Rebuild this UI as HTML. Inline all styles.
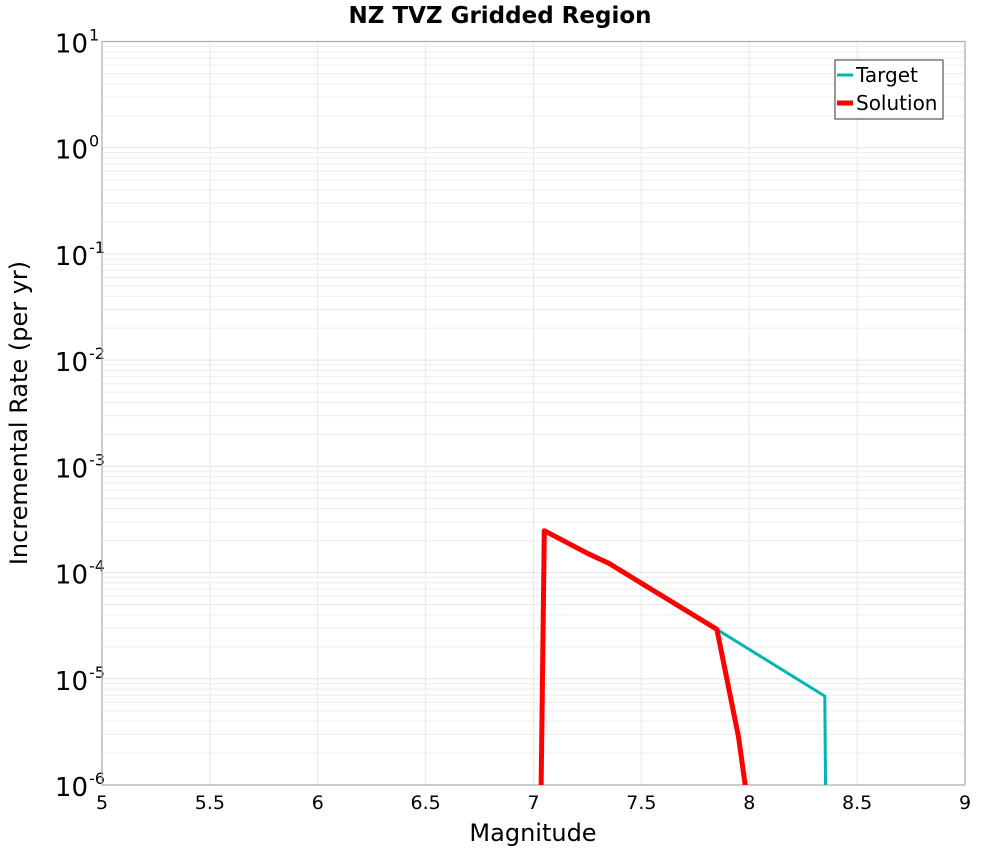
<!DOCTYPE html>
<html><head><meta charset="utf-8"><style>
html,body{margin:0;padding:0;background:#fff;width:1000px;height:850px;overflow:hidden;}
svg{display:block;font-family:"DejaVu Sans","Liberation Sans",sans-serif;}
</style></head><body>
<svg id="chart" width="1000" height="850" xmlns="http://www.w3.org/2000/svg">
<text x="500" y="23" text-anchor="middle" font-size="23" font-weight="bold">NZ TVZ Gridded Region</text>
<g id="grid"></g>
<g id="ticks"></g>
<rect x="102" y="41.5" width="863" height="743.5" fill="none" stroke="#aaa" stroke-width="1.2"/>
<g id="series"></g>
<text x="533" y="841" text-anchor="middle" font-size="24">Magnitude</text>
<text transform="translate(27,413) rotate(-90)" text-anchor="middle" font-size="24">Incremental Rate (per yr)</text>
<g>
<rect x="835" y="60" width="108" height="59" fill="#fff" stroke="#555" stroke-width="1.2"/>
<line x1="837" y1="75" x2="853" y2="75" stroke="#00b5b5" stroke-width="3"/>
<text x="856" y="82" font-size="20">Target</text>
<line x1="837" y1="103" x2="853" y2="103" stroke="#ff0000" stroke-width="5"/>
<text x="856" y="110" font-size="20">Solution</text>
</g>
</svg>
<script>
const xTicks = [5, 5.5, 6, 6.5, 7, 7.5, 8, 8.5, 9];
const xTickLabels = ["5", "5.5", "6", "6.5", "7", "7.5", "8", "8.5", "9"];
const yDecades = [1, 0, -1, -2, -3, -4, -5, -6];
const targetMag = [6.95, 7.05, 7.25, 7.35, 7.85, 8.35, 8.45];
const targetRate = [1e-20, 2.48e-4, 1.52e-4, 1.22e-4, 2.92e-5, 6.87e-6, 1e-30];
const solutionMag = [6.95, 7.05, 7.25, 7.35, 7.85, 7.95, 8.05];
const solutionRate = [1e-20, 2.48e-4, 1.52e-4, 1.22e-4, 2.92e-5, 2.84e-6, 1e-7];

const L = 102, R = 965, T = 41.5, B = 785;
const xMin = 5, xMax = 9, yMaxLog = 1, yMinLog = -6;
const NS = "http://www.w3.org/2000/svg";
function X(v){ return L + (v - xMin) / (xMax - xMin) * (R - L); }
function Y(v){ return T + (yMaxLog - Math.log10(v)) / (yMaxLog - yMinLog) * (B - T); }
function mk(tag, attrs, parent){ const e = document.createElementNS(NS, tag); for (const k in attrs) e.setAttribute(k, attrs[k]); parent.appendChild(e); return e; }

const grid = document.getElementById('grid');
const ticks = document.getElementById('ticks');
for (let i = 0; i < xTicks.length; i++) {
  const x = X(xTicks[i]);
  const gl = mk('line', {x1:x, y1:T, x2:x, y2:B, stroke:'#e8e8e8', 'stroke-width':1}, grid);
  
  
  const t = mk('text', {x:x, y:809, 'text-anchor':'middle', 'font-size':19}, ticks);
  
  
  t.textContent = xTickLabels[i];
}
for (let d = yMinLog; d < yMaxLog; d++) {
  for (let m = 2; m <= 9; m++) {
    const y = Y(m * Math.pow(10, d));
    const gl = mk('line', {x1:L, y1:y, x2:R, y2:y, stroke:'#ececec', 'stroke-width':1}, grid);
    
    
  }
}
for (let i = 0; i < yDecades.length; i++) {
  const y = Y(Math.pow(10, yDecades[i]));
  const gl = mk('line', {x1:L, y1:y, x2:R, y2:y, stroke:'#e4e4e4', 'stroke-width':1}, grid);
  
  
  const t = mk('text', {x:88, y:y + 11, 'text-anchor':'end', 'font-size':26}, ticks);
  
  
  t.textContent = '10';
  const s = mk('text', {x:89, y:y - 1, 'text-anchor':'start', 'font-size':16}, ticks);
  
  
  s.textContent = String(yDecades[i]);
}

const series = document.getElementById('series');
mk('clipPath', {id:'clip'}, series);
mk('rect', {x:L, y:T, width:R - L, height:B - T}, series.querySelector('clipPath'));
function path(mags, rates){ return mags.map((m, i) => (i ? 'L' : 'M') + X(m).toFixed(1) + ' ' + Y(rates[i]).toFixed(1)).join(' '); }
const tp = mk('path', {d:path(targetMag, targetRate), fill:'none', stroke:'#00b5b5', 'stroke-width':3, 'stroke-linejoin':'round', 'clip-path':'url(#clip)'}, series);


const sp = mk('path', {d:path(solutionMag, solutionRate), fill:'none', stroke:'#ff0000', 'stroke-width':5, 'stroke-linejoin':'round', 'clip-path':'url(#clip)'}, series);


</script>
</body></html>
